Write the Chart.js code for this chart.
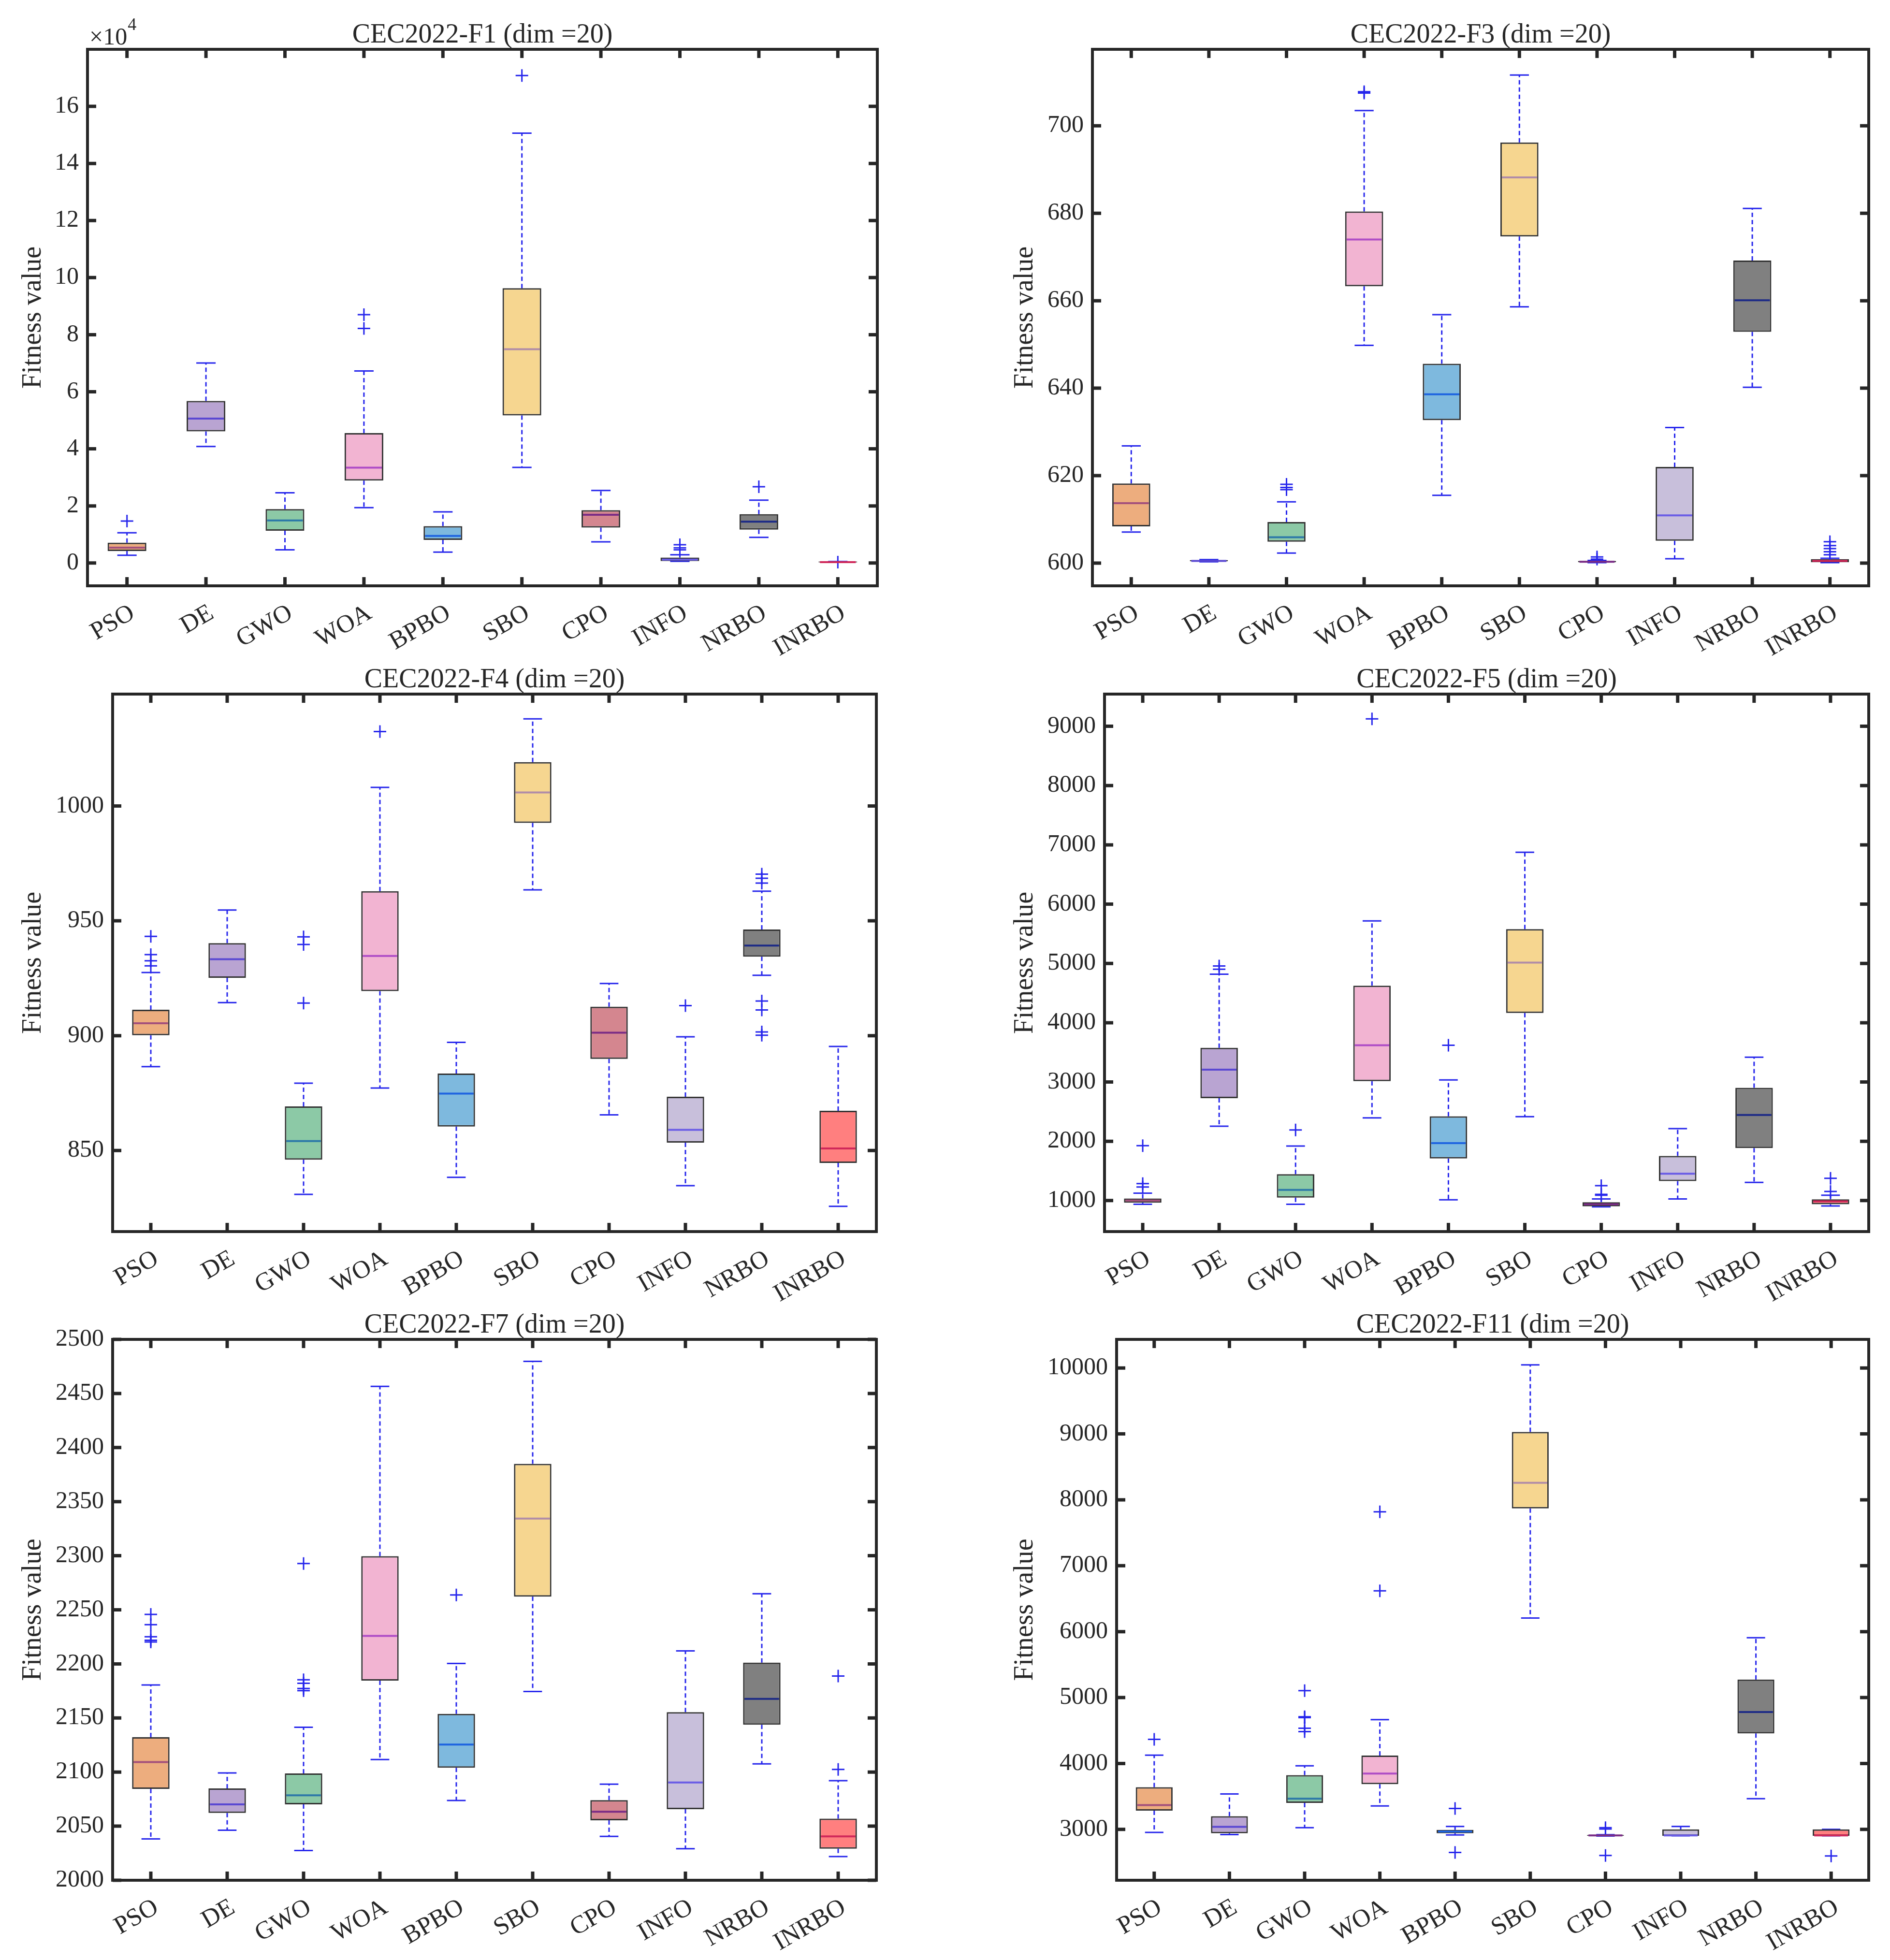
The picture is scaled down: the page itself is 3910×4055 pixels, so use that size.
<!DOCTYPE html>
<html lang="en">
<head>
  <meta charset="UTF-8" />
  <title>CEC2022 box plots (dim = 20)</title>
  <script src="https://cdn.jsdelivr.net/npm/chart.js"></script>
  <style>
    body {
      margin: 0;
      background: #ffffff;
      width: 3910px;
      height: 4055px;
      position: relative;
      overflow: hidden;
    }
    canvas { position: absolute; }
  </style>
</head>
<body>
  <script>
    const algorithms = ["PSO", "DE", "GWO", "WOA", "BPBO", "SBO", "CPO", "INFO", "NRBO", "INRBO"];

    // CEC2022-F1
    const f1Low  = [2700, 40800, 4600, 19400, 3800, 33500, 7400, 600, 9000, 200];
    const f1Q1   = [4200, 46100, 11300, 28900, 8100, 51700, 12400, 700, 11700, 200];
    const f1Med  = [5400, 50600, 14900, 33400, 9500, 74900, 16900, 1200, 14500, 300];
    const f1Q3   = [7100, 56800, 18900, 45500, 12900, 96300, 18500, 1900, 17100, 500];
    const f1High = [10600, 70100, 24600, 67300, 17900, 150600, 25400, 2900, 22000, 500];
    const f1Out  = [[14700], [], [], [82200, 87000], [], [170800], [], [4600, 5300, 6400], [26700], [300]];
    const f1Ticks = [0, 20000, 40000, 60000, 80000, 100000, 120000, 140000, 160000];

    // CEC2022-F3
    const f3Low  = [607.1, 600.3, 602.3, 649.8, 615.5, 658.6, 600.1, 601.0, 640.2, 600.1];
    const f3Q1   = [608.4, 600.4, 604.9, 663.3, 632.7, 674.7, 600.2, 605.1, 652.9, 600.2];
    const f3Med  = [613.7, 600.5, 605.9, 674.0, 638.6, 688.2, 600.3, 610.9, 660.1, 600.5];
    const f3Q3   = [618.2, 600.7, 609.4, 680.4, 645.6, 696.2, 600.5, 622.0, 669.2, 600.9];
    const f3High = [626.8, 600.8, 614.0, 703.5, 656.8, 711.6, 600.6, 631.0, 681.1, 601.1];
    const f3Out  = [[], [], [616.8, 617.3, 618.0], [707.5, 707.8], [], [], [600.9, 601.4], [], [], [601.9, 602.6, 603.3, 604.0, 604.9]];
    const f3Ticks = [600, 620, 640, 660, 680, 700];

    // CEC2022-F4
    const f4Low  = [886.5, 914.4, 830.9, 877.2, 838.3, 963.5, 865.5, 834.7, 926.3, 825.7];
    const f4Q1   = [900.2, 925.2, 846.0, 919.4, 860.4, 992.6, 889.9, 853.4, 934.4, 844.6];
    const f4Med  = [905.4, 933.3, 854.1, 934.7, 874.8, 1005.9, 901.3, 859.0, 939.2, 850.9];
    const f4Q3   = [911.3, 940.3, 869.2, 962.9, 883.5, 1019.1, 912.6, 873.4, 946.2, 867.3];
    const f4High = [927.5, 954.7, 879.3, 1008.1, 897.1, 1037.9, 922.7, 899.5, 962.9, 895.3];
    const f4Out  = [[930.4, 932.6, 935.3, 943.2], [], [914.2, 939.7, 943.0], [1032.4], [], [], [], [913.1], [900.2, 901.6, 911.2, 915.1, 966.4, 968.5, 970.3], []];
    const f4Ticks = [850, 900, 950, 1000];

    // CEC2022-F5
    const f5Low  = [937, 2254, 937, 2394, 1014, 2415, 895, 1028, 1307, 909];
    const f5Q1   = [965, 2728, 1049, 3014, 1711, 4164, 902, 1328, 1885, 937];
    const f5Med  = [1000, 3209, 1181, 3620, 1969, 5014, 937, 1453, 2443, 986];
    const f5Q3   = [1035, 3578, 1446, 4624, 2422, 5578, 972, 1753, 2902, 1021];
    const f5High = [1125, 4819, 1920, 5718, 3035, 6875, 1028, 2213, 3418, 1091];
    const f5Out  = [[1230, 1286, 1927], [4902, 4958], [2192], [9125], [3620], [], [1091, 1105, 1251], [], [], [1153, 1376]];
    const f5Ticks = [1000, 2000, 3000, 4000, 5000, 6000, 7000, 8000, 9000];

    // CEC2022-F7
    const f7Low  = [2038.2, 2046.2, 2027.5, 2111.6, 2073.7, 2174.5, 2040.6, 2029.1, 2107.6, 2021.9];
    const f7Q1   = [2084.5, 2062.2, 2070.1, 2184.5, 2104.0, 2262.2, 2055.4, 2065.7, 2143.8, 2029.1];
    const f7Med  = [2109.2, 2070.1, 2078.5, 2225.9, 2125.5, 2334.3, 2063.3, 2090.4, 2167.7, 2040.6];
    const f7Q3   = [2132.3, 2084.9, 2098.8, 2299.6, 2153.8, 2384.9, 2074.1, 2155.4, 2201.2, 2057.0];
    const f7High = [2180.5, 2099.2, 2141.4, 2456.6, 2200.4, 2479.7, 2088.8, 2212.0, 2264.9, 2092.0];
    const f7Out  = [[2220.3, 2221.9, 2225.1, 2236.3, 2245.8], [], [2175.3, 2177.3, 2182.1, 2185.3, 2292.8], [], [2263.7], [], [], [], [], [2102.4, 2188.8]];
    const f7Ticks = [2000, 2050, 2100, 2150, 2200, 2250, 2300, 2350, 2400, 2450, 2500];

    // CEC2022-F11
    const f11Low  = [2955, 2922, 3026, 3356, 2916, 6206, 2900, 2903, 3466, 2903];
    const f11Q1   = [3285, 2942, 3402, 3687, 2942, 7870, 2903, 2903, 4457, 2903];
    const f11Med  = [3369, 3039, 3466, 3848, 2968, 8259, 2909, 2909, 4781, 2909];
    const f11Q3   = [3641, 3201, 3823, 4120, 2994, 9030, 2916, 3000, 5273, 3000];
    const f11High = [4127, 3538, 3965, 4665, 3045, 10047, 2920, 3045, 5908, 3000];
    const f11Out  = [[4367], [], [4483, 4535, 4697, 4710, 5105], [6620, 7819], [2650, 3317], [], [2605, 3006, 3026], [], [], [2598]];
    const f11Ticks = [3000, 4000, 5000, 6000, 7000, 8000, 9000, 10000];

    // colours
    const boxColors = ["#EDAD7E", "#B9A4D2", "#8CC9A6", "#F2B4D2", "#7EB9DE", "#F6D690", "#D4868F", "#C8BFDB", "#808080", "#FF7F7F"];
    const medianColors = ["#A3507C", "#5A48D2", "#2C78A8", "#AE4CC6", "#1E64E0", "#B08CA8", "#7A2C86", "#6A5CE6", "#1C2A86", "#D0285A"];
    const FONT = "Liberation Serif";
    const INK = "#262626";
    const BLUE = "rgb(38,38,236)";

    const panels = [
      { title: "CEC2022-F1 (dim =20)", lo: f1Low, q1: f1Q1, med: f1Med, q3: f1Q3, hi: f1High, out: f1Out, ticks: f1Ticks,
        min: -8000, max: 180000, div: 1e4, L: 181, R: 1815, T: 102, B: 1212, labelX: 70 },
      { title: "CEC2022-F3 (dim =20)", lo: f3Low, q1: f3Q1, med: f3Med, q3: f3Q3, hi: f3High, out: f3Out, ticks: f3Ticks,
        min: 594.8, max: 717.5, L: 2260, R: 3866, T: 102, B: 1212, labelX: 2122 },
      { title: "CEC2022-F4 (dim =20)", lo: f4Low, q1: f4Q1, med: f4Med, q3: f4Q3, hi: f4High, out: f4Out, ticks: f4Ticks,
        min: 814.7, max: 1048.7, L: 233, R: 1813, T: 1436, B: 2548, labelX: 70 },
      { title: "CEC2022-F5 (dim =20)", lo: f5Low, q1: f5Q1, med: f5Med, q3: f5Q3, hi: f5High, out: f5Out, ticks: f5Ticks,
        min: 477, max: 9543, L: 2285, R: 3866, T: 1436, B: 2548, labelX: 2122 },
      { title: "CEC2022-F7 (dim =20)", lo: f7Low, q1: f7Q1, med: f7Med, q3: f7Q3, hi: f7High, out: f7Out, ticks: f7Ticks,
        min: 2000, max: 2500, L: 233, R: 1813, T: 2771, B: 3890, labelX: 70 },
      { title: "CEC2022-F11 (dim =20)", lo: f11Low, q1: f11Q1, med: f11Med, q3: f11Q3, hi: f11High, out: f11Out, ticks: f11Ticks,
        min: 2229, max: 10434, L: 2310, R: 3866, T: 2771, B: 3890, labelX: 2122 }
    ];

    // whiskers + caps (under the boxes), medians (over the boxes)
    const boxPlot = {
      id: "boxPlot",
      beforeDatasetsDraw(chart) {
        const p = chart.options.plugins.boxPlot.panel;
        const { ctx, scales: { y } } = chart;
        const meta = chart.getDatasetMeta(0);
        ctx.save();
        ctx.strokeStyle = BLUE;
        ctx.lineWidth = 3;
        meta.data.forEach((bar, i) => {
          const cx = bar.x, cap = bar.width / 4;
          const yHi = y.getPixelForValue(p.hi[i]), yLo = y.getPixelForValue(p.lo[i]);
          ctx.setLineDash([9, 6]);
          ctx.beginPath();
          ctx.moveTo(cx, y.getPixelForValue(p.q3[i])); ctx.lineTo(cx, yHi);
          ctx.moveTo(cx, y.getPixelForValue(p.q1[i])); ctx.lineTo(cx, yLo);
          ctx.stroke();
          ctx.setLineDash([]);
          ctx.beginPath();
          ctx.moveTo(cx - cap, yHi); ctx.lineTo(cx + cap, yHi);
          ctx.moveTo(cx - cap, yLo); ctx.lineTo(cx + cap, yLo);
          ctx.stroke();
        });
        ctx.restore();
      },
      afterDatasetsDraw(chart) {
        const p = chart.options.plugins.boxPlot.panel;
        const { ctx, scales: { y } } = chart;
        const meta = chart.getDatasetMeta(0);
        ctx.save();
        ctx.lineWidth = 4;
        meta.data.forEach((bar, i) => {
          const hw = bar.width / 2 - 3;
          const ym = y.getPixelForValue(p.med[i]);
          ctx.strokeStyle = medianColors[i];
          ctx.beginPath();
          ctx.moveTo(bar.x - hw, ym); ctx.lineTo(bar.x + hw, ym);
          ctx.stroke();
        });
        ctx.restore();
      }
    };

    // MATLAB style box frame with inward ticks on all sides
    const frame = {
      id: "frame",
      afterDraw(chart) {
        const { ctx, chartArea: a, scales: { x, y } } = chart;
        const p = chart.options.plugins.boxPlot.panel;
        ctx.save();
        ctx.strokeStyle = INK;
        ctx.lineWidth = 7;
        ctx.beginPath();
        x.ticks.forEach((t, i) => {
          const px = x.getPixelForTick(i);
          ctx.moveTo(px, a.bottom); ctx.lineTo(px, a.bottom - 18);
          ctx.moveTo(px, a.top); ctx.lineTo(px, a.top + 18);
        });
        y.ticks.forEach((t, i) => {
          const py = y.getPixelForTick(i);
          ctx.moveTo(a.left, py); ctx.lineTo(a.left + 18, py);
          ctx.moveTo(a.right, py); ctx.lineTo(a.right - 18, py);
        });
        ctx.stroke();
        ctx.lineWidth = 6;
        ctx.strokeRect(a.left, a.top, a.right - a.left, a.bottom - a.top);
        if (p.div) {
          ctx.fillStyle = INK;
          ctx.textBaseline = "alphabetic";
          ctx.textAlign = "left";
          ctx.font = `50px "${FONT}"`;
          const base = "\u00d710";
          ctx.fillText(base, a.left + 4, a.top - 10);
          const w = ctx.measureText(base).width;
          ctx.font = `36px "${FONT}"`;
          ctx.fillText("4", a.left + 4 + w + 1, a.top - 40);
        }
        ctx.restore();
      }
    };

    function makeChart(p) {
      const padTop = 20, titleBlock = 57, padRight = 25, xAxisH = 210;
      const left = Math.round(p.labelX - 33.6);
      const top = Math.round(p.T - titleBlock - padTop);
      const width = Math.round(p.R - left + padRight);
      const height = Math.round(p.B - top + xAxisH);
      const cv = document.createElement("canvas");
      cv.width = width;
      cv.height = height;
      cv.style.left = left + "px";
      cv.style.top = top + "px";
      cv.style.width = width + "px";
      cv.style.height = height + "px";
      document.body.appendChild(cv);
      const yW = p.L - left;

      const outPoints = p.out.flatMap((arr, i) => arr.map(v => ({ x: algorithms[i], y: v })));

      new Chart(cv.getContext("2d"), {
        type: "bar",
        data: {
          labels: algorithms,
          datasets: [
            {
              type: "bar",
              data: p.q1.map((v, i) => [v, p.q3[i]]),
              backgroundColor: boxColors,
              borderColor: "#333333",
              borderWidth: 3,
              borderSkipped: false,
              barPercentage: 0.49,
              categoryPercentage: 1,
              order: 2
            },
            {
              type: "line",
              data: outPoints,
              showLine: false,
              pointStyle: "cross",
              pointRadius: 13,
              pointBorderColor: BLUE,
              pointBorderWidth: 3,
              order: 1
            }
          ]
        },
        options: {
          responsive: false,
          devicePixelRatio: 1,
          animation: false,
          layout: { padding: { top: padTop, right: padRight, left: 0, bottom: 0 }, autoPadding: false },
          scales: {
            x: {
              type: "category",
              offset: true,
              grid: { display: false, drawTicks: false },
              border: { display: false },
              ticks: {
                maxRotation: 30, minRotation: 30, autoSkip: false, padding: 26, labelOffset: 12,
                color: INK, font: { family: FONT, size: 52 }
              },
              afterFit: s => { s.height = xAxisH; }
            },
            y: {
              min: p.min,
              max: p.max,
              grid: { display: false, drawTicks: false },
              border: { display: false },
              ticks: {
                includeBounds: false, padding: 18, color: INK,
                font: { family: FONT, size: 50 },
                callback: v => p.div ? String(v / p.div) : String(v)
              },
              afterBuildTicks: s => { s.ticks = p.ticks.map(v => ({ value: v })); },
              title: {
                display: true, text: "Fitness value", color: INK,
                font: { family: FONT, size: 56 }, padding: { top: 0, bottom: 0 }
              },
              afterFit: s => { s.width = yW; }
            }
          },
          plugins: {
            legend: { display: false },
            tooltip: { enabled: false },
            title: {
              display: true, text: p.title, color: INK, fullSize: false,
              font: { family: FONT, size: 56, weight: "normal", lineHeight: 1 },
              padding: { top: 0, bottom: 1 }
            },
            boxPlot: { panel: p }
          }
        },
        plugins: [boxPlot, frame]
      });
    }

    panels.forEach(makeChart);
  </script>
</body>
</html>
